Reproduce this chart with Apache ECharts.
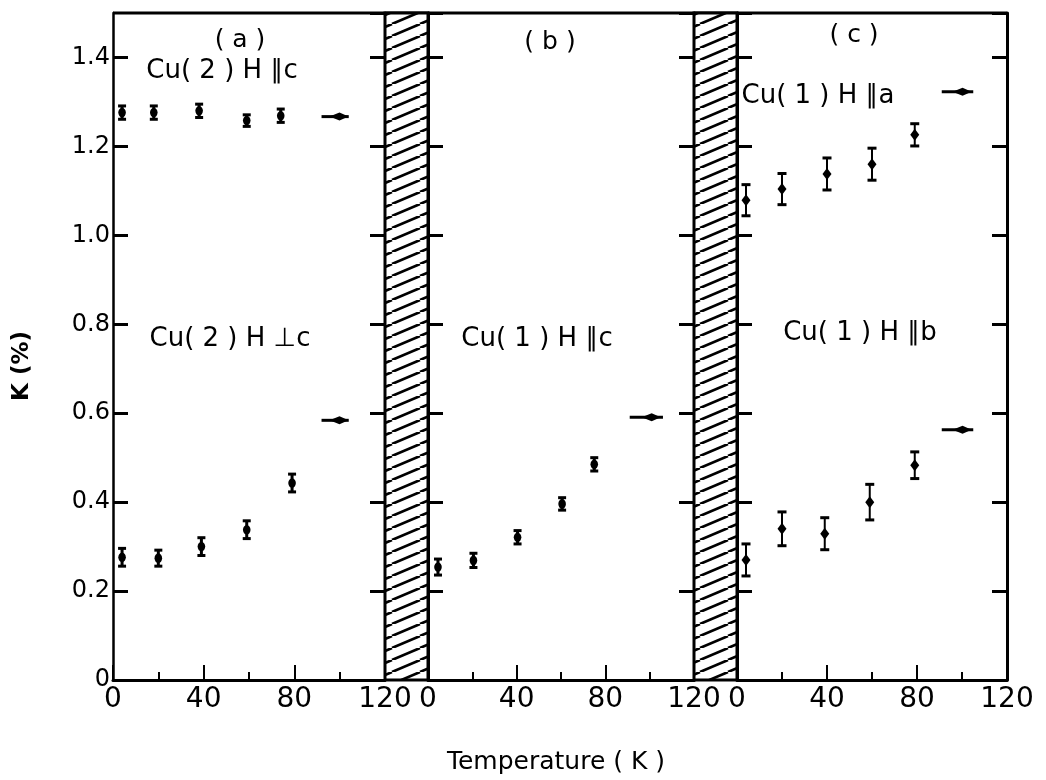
<!DOCTYPE html>
<html><head><meta charset="utf-8">
<script src="https://cdn.jsdelivr.net/npm/echarts@6/dist/echarts.min.js"></script>
<style>html,body{margin:0;padding:0;background:#fff}#chart{width:1046px;height:780px}</style>
</head><body><div id="chart"></div>
<script>
// ---------- data ----------
const xTicks = [0, 40, 80, 120];                       // temperature ticks (K) for each panel
const yTicks = [0, 0.2, 0.4, 0.6, 0.8, 1.0, 1.2, 1.4];  // K (%) ticks

// (a) Cu(2) H || c
const tA_par = [4, 18, 38, 59, 74];
const kA_par = [1.276, 1.276, 1.280, 1.258, 1.269];
const eA_par = [0.015, 0.015, 0.015, 0.013, 0.015];
const rtA_par = [92, 104, 1.267];    // room-temperature arrow [T1, T2, K]
// (a) Cu(2) H ⊥ c
const tA_perp = [4, 20, 39, 59, 79];
const kA_perp = [0.276, 0.274, 0.300, 0.338, 0.443];
const eA_perp = [0.020, 0.018, 0.020, 0.020, 0.020];
const rtA_perp = [92, 104, 0.584];
// (b) Cu(1) H || c
const tB = [4.5, 20.5, 40.4, 60.5, 75];
const kB = [0.254, 0.269, 0.321, 0.396, 0.485];
const eB = [0.018, 0.016, 0.015, 0.014, 0.015];
const rtB = [91, 106, 0.591];
// (c) Cu(1) H || a
const tC_a = [4, 20, 40, 60, 79];
const kC_a = [1.079, 1.104, 1.138, 1.160, 1.226];
const eC_a = [0.035, 0.035, 0.036, 0.036, 0.025];
const rtC_a = [91, 105, 1.323];
// (c) Cu(1) H || b
const tC_b = [4, 20, 39, 59, 79];
const kC_b = [0.270, 0.340, 0.329, 0.400, 0.483];
const eC_b = [0.036, 0.038, 0.036, 0.040, 0.030];
const rtC_b = [91, 105, 0.563];

// ---------- layout ----------
const FONT = 'DejaVu Sans';
const TOP = 13, BOTTOM_Y = 680;
const panels = [{l:113, r:385}, {l:428, r:694}, {l:737, r:1007}];

function hatchCanvas(){
  const w = 28, h = 12, c = document.createElement('canvas');
  c.width = w; c.height = h;
  const g = c.getContext('2d');
  g.fillStyle = '#fff'; g.fillRect(0,0,w,h);
  g.strokeStyle = '#000'; g.lineWidth = 2.6;
  for (const o of [-w, 0, w]) { g.beginPath(); g.moveTo(o, h); g.lineTo(o + w, 0); g.stroke(); }
  return c;
}
const hatch = hatchCanvas();

function zip(t, k, e){ return t.map((x,i)=>[x, k[i], e[i]]); }

function errRender(style){
  return function(params, api){
    const x = api.value(0), y = api.value(1), e = api.value(2);
    const p = api.coord([x, y]), lo = api.coord([x, y - e]), hi = api.coord([x, y + e]);
    const cw = style.cap / 2;
    const ch = [
      {type:'line', shape:{x1:p[0], y1:lo[1], x2:p[0], y2:hi[1]}, style:{stroke:'#000', lineWidth:style.lw}},
      {type:'line', shape:{x1:p[0]-cw, y1:lo[1], x2:p[0]+cw, y2:lo[1]}, style:{stroke:'#000', lineWidth:3}},
      {type:'line', shape:{x1:p[0]-cw, y1:hi[1], x2:p[0]+cw, y2:hi[1]}, style:{stroke:'#000', lineWidth:3}}
    ];
    if (style.diamond) {
      ch.push({type:'polygon', shape:{points:[[p[0],p[1]-6],[p[0]+4.5,p[1]],[p[0],p[1]+6],[p[0]-4.5,p[1]]]}, style:{fill:'#000'}});
    } else {
      ch.push({type:'ellipse', shape:{cx:p[0], cy:p[1], rx:3.8, ry:4.8}, style:{fill:'#000'}});
    }
    return {type:'group', children:ch};
  };
}
function arrowRender(params, api){
  const a = api.coord([api.value(0), api.value(2)]);
  const b = api.coord([api.value(1), api.value(2)]);
  const cx = a[0] + (b[0]-a[0]) * 0.66, y = a[1];
  return {type:'group', children:[
    {type:'line', shape:{x1:a[0], y1:y, x2:b[0], y2:y}, style:{stroke:'#000', lineWidth:3}},
    {type:'polygon', shape:{points:[[cx-10,y],[cx,y-4],[cx+9,y],[cx,y+4]]}, style:{fill:'#000'}}
  ]};
}

const grids = [], xAxes = [], yAxes = [], series = [];
panels.forEach((p, i) => {
  grids.push({left:p.l, width:p.r - p.l, top:TOP, height:BOTTOM_Y - TOP, outerBoundsMode:'none'});
  xAxes.push({
    type:'value', gridIndex:i, min:xTicks[0], max:xTicks[xTicks.length-1], interval:xTicks[1]-xTicks[0],
    splitLine:{show:false},
    axisLine:{show:true, lineStyle:{color:'#000', width:3}},
    axisTick:{show:true, inside:true, length:15, lineStyle:{color:'#000', width:2}},
    minorTick:{show:true, splitNumber:2, length:8, lineStyle:{color:'#000', width:2}},
    axisLabel:{show:true, color:'#000', fontFamily:FONT, fontSize:28, margin:6},
    name: i === 1 ? 'Temperature ( K )' : '', nameLocation:'middle', nameGap:70,
    nameTextStyle:{color:'#000', fontFamily:FONT, fontSize:25, padding:[0,10,0,0]}
  });
  const yBase = {
    type:'value', gridIndex:i, min:0, max:1.5, interval:yTicks[1]-yTicks[0],
    splitLine:{show:false},
    axisLine:{show:true, onZero:false, lineStyle:{color:'#000', width: i === 0 ? 2.5 : 3}},
    axisTick:{show:true, inside:true, length:15, lineStyle:{color:'#000', width:3}}
  };
  yAxes.push(Object.assign({}, yBase, {
    position:'left',
    axisLabel:{show: i === 0, showMaxLabel:false, color:'#000', fontFamily:FONT, fontSize:24, margin:3,
      formatter: v => { const t = yTicks.find(u => Math.abs(u - v) < 1e-6); return t === undefined ? '' : (t === 0 ? '0' : t.toFixed(1)); }}
  }));
  yAxes.push(Object.assign({}, yBase, {position:'right', axisLabel:{show:false}}));
});

const sets = [
  {g:0, data:zip(tA_par, kA_par, eA_par), rt:rtA_par, st:{cap:8, lw:3}},
  {g:0, data:zip(tA_perp, kA_perp, eA_perp), rt:rtA_perp, st:{cap:8, lw:3}},
  {g:1, data:zip(tB, kB, eB), rt:rtB, st:{cap:8, lw:3}},
  {g:2, data:zip(tC_a, kC_a, eC_a), rt:rtC_a, st:{cap:9, lw:2, diamond:true}},
  {g:2, data:zip(tC_b, kC_b, eC_b), rt:rtC_b, st:{cap:9, lw:2, diamond:true}}
];
sets.forEach(s => {
  series.push({type:'custom', xAxisIndex:s.g, yAxisIndex:s.g*2, renderItem:errRender(s.st), data:s.data, silent:true, z:5});
  series.push({type:'custom', xAxisIndex:s.g, yAxisIndex:s.g*2, renderItem:arrowRender, data:[s.rt], silent:true, z:5});
});

function txt(x, y, text, size, extra){
  return Object.assign({type:'text', x:x, y:y, z:10,
    style:{text:text, fill:'#000', font: (extra && extra.bold ? 'bold ' : '') + size + 'px "' + FONT + '"', textAlign:'center', textVerticalAlign:'middle'}},
    extra && extra.rot ? {rotation:extra.rot} : {});
}

const graphic = [
  {type:'line', z:1, shape:{x1:panels[0].l, y1:TOP, x2:panels[2].r, y2:TOP}, style:{stroke:'#000', lineWidth:3}},
  {type:'rect', z:1, shape:{x:panels[0].r, y:TOP, width:panels[1].l - panels[0].r, height:BOTTOM_Y - TOP},
    style:{fill:{image:hatch, repeat:'repeat'}, stroke:'#000', lineWidth:3}},
  {type:'rect', z:1, shape:{x:panels[1].r, y:TOP, width:panels[2].l - panels[1].r, height:BOTTOM_Y - TOP},
    style:{fill:{image:hatch, repeat:'repeat'}, stroke:'#000', lineWidth:3}},
  txt(240, 40, '( a )', 25),
  txt(222, 71, 'Cu( 2 ) H ∥c', 26),
  txt(230, 339, 'Cu( 2 ) H ⊥c', 26),
  txt(550, 42, '( b )', 25),
  txt(537, 339, 'Cu( 1 ) H ∥c', 26),
  txt(854, 35, '( c )', 25),
  txt(818, 96, 'Cu( 1 ) H ∥a', 26),
  txt(860, 333, 'Cu( 1 ) H ∥b', 26),
  txt(22, 366, 'K (%)', 23, {bold:true, rot:Math.PI/2})
];

const chart = echarts.init(document.getElementById('chart'), null, {renderer:'canvas'});
chart.setOption({
  backgroundColor:'#fff',
  animation:false,
  grid:grids, xAxis:xAxes, yAxis:yAxes, series:series, graphic:graphic
});
</script></body></html>
